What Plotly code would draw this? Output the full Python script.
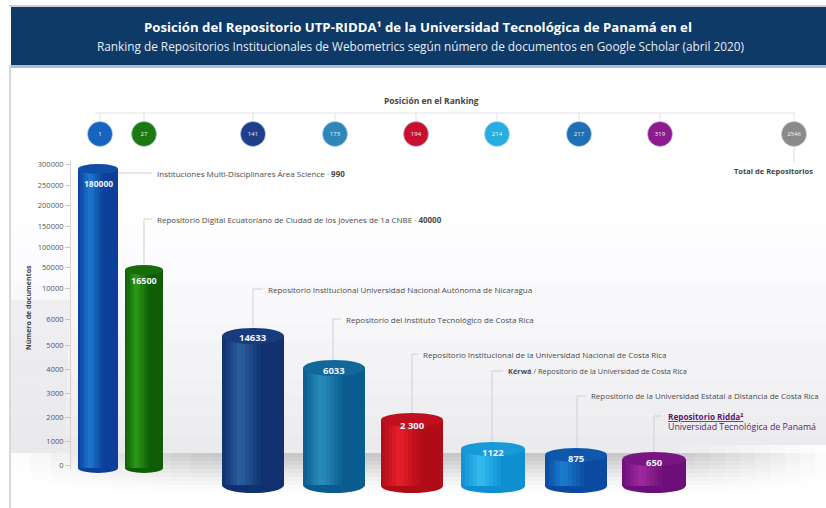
import plotly.graph_objects as go
import numpy as np

# ---- data ----
repositories = ["Instituciones Multi-Disciplinares Área Science", "Repositorio Digital Ecuatoriano", "Repositorio UNAN Nicaragua",
                "Repositorio TEC Costa Rica", "Repositorio UNA Costa Rica", "Kérwá UCR", "Repositorio UNED Costa Rica", "Repositorio Ridda UTP"]
documents = ["180000", "16500", "14633", "6033", "2 300", "1122", "875", "650"]
rank_labels = ["1", "27", "141", "173", "194", "214", "217", "319", "2546"]
tick_text = ["0", "1000", "2000", "3000", "4000", "5000", "6000", "10000", "50000", "100000", "150000", "200000", "250000", "300000"]
tick_heights = [0, 24, 48, 72, 96, 120, 146, 177, 198, 218, 239, 260, 280, 301]
bar_tops = [301, 200, 137, 105, 52, 23, 17, 13]
bar_bases = [-8, -8, -28, -28, -28, -28, -28, -28]

# ---- layout constants ----
W, H = 826, 508
FLOOR = 465
px = lambda p: FLOOR - p
bar_x = [98, 144, 253, 334, 412, 493, 576, 654]
bar_w = [40, 38, 62, 62, 62, 64, 62, 63]
bar_ry = [5, 5, 8, 8, 7, 7, 7, 7]
label_px = [183, 280, 337, 370, 425, 452, 458, 462]
label_size = [8.5, 9, 9.5, 9.5, 9.5, 9.5, 9.5, 9.5]
dark = ["#0b3f9a", "#0f5e05", "#10306f", "#0a5c8e", "#b00c18", "#0f8fd0", "#0a4aa0", "#6d0f78"]
light = ["#1f78cf", "#2d9a18", "#2d5fa0", "#2a8fc0", "#e8202c", "#35bdf0", "#1c7fd0", "#a02aa0"]
circle_x = [100, 144, 253, 335, 416, 497, 579, 660, 794]
circle_c = ["#1565c0", "#1a7a10", "#1f3f8c", "#2f86b8", "#c8102e", "#27aee0", "#1f6fb5", "#8e1a8e", "#8a8a8a"]

def hex2rgb(c):
    return np.array([int(c[i:i+2], 16) for i in (1, 3, 5)], float)

def mix(a, b, t):
    v = hex2rgb(a) * (1 - t) + hex2rgb(b) * t
    return "rgb(%d,%d,%d)" % tuple(v)

fig = go.Figure()
shapes, ann = [], []

def rect(x0, y0, x1, y1, color):
    shapes.append(dict(type="rect", xref="x", yref="y", x0=x0, x1=x1, y0=px(y0), y1=px(y1),
                       fillcolor=color, line_width=0, layer="below"))

# wall and floor shading
wall = np.linspace(190, 453, 15)
for i in range(14):
    g = int(255 - 20 * (i / 13) ** 1.4)
    rect(11, wall[i], W, wall[i + 1], f"rgb({g},{g},{min(255, g + 3)})")
for i, g in enumerate([200, 206, 213, 220, 227, 234, 240, 246, 250, 253]):
    rect(11, 453 + i * 4, W, 457 + i * 4, f"rgb({g},{g},{g})")
for i in range(10):
    rect(680 + i * 15, 445, 695 + i * 15, 495, f"rgba(255,255,255,{0.1 + i * 0.09:.2f})")
for i in range(10):
    rect(11 + i * 20, 453, 31 + i * 20, 495, f"rgba(255,255,255,{0.95 - i * 0.1:.2f})")
for i in range(6):
    rect(11, 300 + i * 25, 70 - i, 325 + i * 25, "rgba(232,232,236,0.6)")
rect(11, 495, W, H, "#ffffff")
# frame and header
rect(9, 65, 11, H, "#d8d8d8")
rect(11, 7, W, 65, "#0e3a68")
rect(11, 65, W, 68, "#aebccb")
rect(9, 5, W, 7, "#d0d0d0")
rect(70, 160, 71, 470, "rgba(205,195,190,0.7)")

# cylinders
N = 16
for i in range(8):
    w, x0, ry = bar_w[i], bar_x[i], bar_ry[i]
    sw = w / N
    xs, cols = [], []
    for j in range(N):
        u = (j + 0.5) / N
        t = max(0.0, 1 - abs(u - 0.3) / 0.3) if u < 0.3 else max(0.0, 1 - (u - 0.3) / 0.35)
        xs.append(x0 - w / 2 + sw * (j + 0.5))
        cols.append(mix(dark[i], light[i], t))
    n = len(xs)
    top = bar_tops[i] - ry
    base = bar_bases[i] + ry
    fig.add_trace(go.Bar(x=xs, y=[top - base] * n, base=[base] * n, width=[sw + 0.5] * n,
                         marker=dict(color=cols, line_width=0), hoverinfo="skip", showlegend=False))
    shapes.append(dict(type="circle", xref="x", yref="y", x0=x0 - w / 2, x1=x0 + w / 2, y0=base - ry, y1=base + ry,
                       fillcolor=dark[i], line_width=0, layer="below"))
    shapes.append(dict(type="circle", xref="x", yref="y", x0=x0 - w / 2, x1=x0 + w / 2, y0=top - ry, y1=top + ry,
                       fillcolor=mix(dark[i], light[i], 0.25), line_width=0, layer="above"))
    ann.append(dict(x=x0, y=px(label_px[i]), text=f"<b>{documents[i]}</b>", showarrow=False,
                    font=dict(size=label_size[i], color="#eef4ff"), yanchor="middle"))

def line(pts, color="#cfcfcf"):
    fig.add_trace(go.Scatter(x=[p[0] for p in pts], y=[px(p[1]) for p in pts], mode="lines",
                             line=dict(color=color, width=1), hoverinfo="skip", showlegend=False))

def label(x, y, text, color="#4a4a4a", size=8):
    ann.append(dict(x=x, y=px(y), text=text, showarrow=False, xanchor="left", yanchor="middle",
                    font=dict(size=size, color=color)))

# leaders and callouts
line([(118, 173), (152, 173)])
label(155, 173, "Instituciones Multi-Disciplinares Área Science · <b>990</b>")
line([(144, 264), (144, 219), (152, 219)])
label(155, 219, "Repositorio Digital Ecuatoriano de Ciudad de los Jóvenes de 1a CNBE · <b>40000</b>")
line([(253, 327), (253, 289), (263, 289)])
label(266, 289, "Repositorio Institucional Universidad Nacional Autónoma de Nicaragua")
line([(333, 362), (333, 319), (341, 319)])
label(344, 319, "Repositorio del Instituto Tecnológico de Costa Rica")
line([(412, 415), (412, 354), (418, 354)])
label(421, 354, "Repositorio Institucional de la Universidad Nacional de Costa Rica")
line([(492, 443), (492, 371), (503, 371)])
label(506, 371, "<b>Kérwá</b> / Repositorio de la Universidad de Costa Rica", size=7.4)
line([(577, 448), (577, 396), (585, 396)])
label(589, 396, "Repositorio de la Universidad Estatal a Distancia de Costa Rica", size=7.9)
line([(654, 452), (654, 416), (662, 416)])
label(666, 416, "<b><u>Repositorio Ridda²</u></b>", color="#5d1a6e", size=8.2)
label(666, 427, "Universidad Tecnológica de Panamá", color="#5d1a6e", size=8.8)

# ranking strip
line([(95, 113), (795, 113)], "#e2e2e2")
for cx in circle_x:
    line([(cx, 113), (cx, 121)], "#e2e2e2")
line([(794, 147), (794, 163)], "#dcdcdc")
fig.add_trace(go.Scatter(x=circle_x, y=[px(134)] * 9, mode="markers+text", text=rank_labels,
                         textposition="middle center", textfont=dict(size=6, color="#f2f2f2"),
                         marker=dict(size=25, color=circle_c, line=dict(color="rgba(190,215,245,0.6)", width=1)),
                         hoverinfo="skip", showlegend=False))

def ctext(x, y, text, size, color, angle=0):
    ann.append(dict(x=x, y=px(y), text=text, showarrow=False, textangle=angle, font=dict(size=size, color=color)))

ctext(431, 100, "<b>Posición en el Ranking</b>", 8.5, "#444444")
ctext(773, 171, "<b>Total de Repositorios</b>", 7.5, "#444444")
ctext(28, 308, "<b>Número de documentos</b>", 7, "#444444", -90)
ctext(418, 27, "<b>Posición del Repositorio UTP-RIDDA¹ de la Universidad Tecnológica de Panamá en el</b>", 13.2, "#ffffff")
ctext(420, 46, "Ranking de Repositorios Institucionales de Webometrics según número de documentos en Google Scholar (abril 2020)", 11.8, "#e6edf5")

fig.update_layout(
    width=W, height=H, margin=dict(l=0, r=0, t=0, b=0), paper_bgcolor="#ffffff", plot_bgcolor="#ffffff",
    barmode="overlay", bargap=0, shapes=shapes, annotations=ann, showlegend=False, font=dict(family="Open Sans"),
    xaxis=dict(range=[0, W], visible=False, fixedrange=True),
    yaxis=dict(range=[FLOOR - H, FLOOR], anchor="free", position=70 / W, side="left", tickmode="array",
               tickvals=tick_heights, ticktext=tick_text, ticks="outside", ticklen=5, tickcolor="#c8c8c8",
               tickfont=dict(size=7.5, color="#555555"), showgrid=False, zeroline=False, showline=False, fixedrange=True),
)
fig.write_html("out.html", config={"displayModeBar": False},
               post_script="document.body.style.margin='0';document.documentElement.style.overflow='hidden';")
